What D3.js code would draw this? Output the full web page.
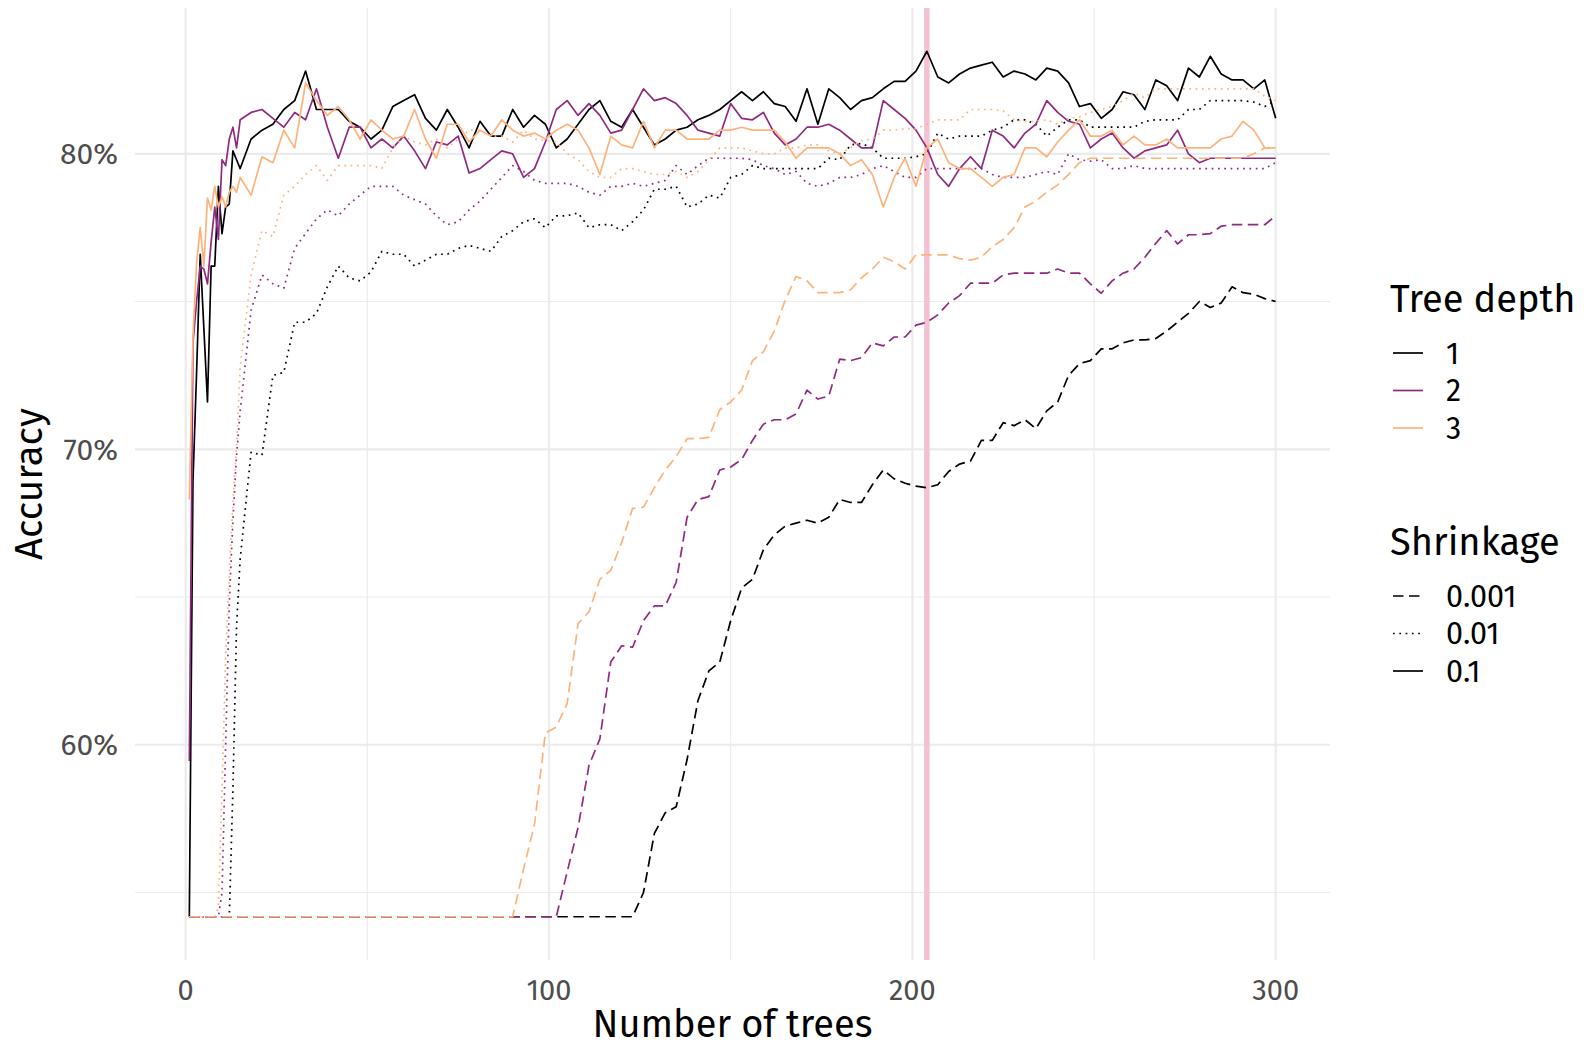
<!DOCTYPE html>
<html>
<head>
<meta charset="utf-8">
<script src="https://cdn.jsdelivr.net/npm/d3@7"></script>
<style>
    body { margin: 0; background: #ffffff; }
    svg { display: block; font-family: "Fira Sans", "Open Sans", sans-serif; }
</style>
</head>
<body>
<script>

const trees = [1, 2, 3, 4, 5, 6, 7, 8, 9, 10, 11, 12, 13, 14, 15,
    18, 21, 24, 27, 30, 33, 36, 39, 42, 45,
    48, 51, 54, 57, 60, 63, 66, 69, 72, 75,
    78, 81, 84, 87, 90, 93, 96, 99, 102, 105,
    108, 111, 114, 117, 120, 123, 126, 129, 132, 135,
    138, 141, 144, 147, 150, 153, 156, 159, 162, 165,
    168, 171, 174, 177, 180, 183, 186, 189, 192, 195,
    198, 201, 204, 207, 210, 213, 216, 219, 222, 225,
    228, 231, 234, 237, 240, 243, 246, 249, 252, 255,
    258, 261, 264, 267, 270, 273, 276, 279, 282, 285,
    288, 291, 294, 297, 300];

const depths = ["1", "2", "3"];
const shrinkages = ["0.001", "0.01", "0.1"];
const xTicks = [0, 100, 200, 300];
const xMinor = [50, 150, 250];
const yTicks = [60, 70, 80];
const yMinor = [55, 65, 75];
const bestTrees = 204;

// accuracy (%) per series
const acc_d1_s01 = [54.18, 68.9, 72.6, 76.6, 74.1, 71.6, 76.2, 76.2, 78.9, 77.3, 78.2, 78.3, 80.1, 79.8, 79.5,
    80.5, 80.8, 81.0, 81.5, 81.8, 82.8, 81.5, 81.5, 81.5, 81.1,
    80.9, 80.5, 80.8, 81.6, 81.8, 82.0, 81.2, 80.8, 81.5, 80.9,
    80.2, 81.1, 80.6, 80.6, 81.5, 80.9, 81.3, 81.0, 80.2, 80.5,
    81.0, 81.5, 81.8, 81.1, 80.9, 81.5, 80.9, 80.3, 80.5, 80.8,
    80.9, 81.15, 81.3, 81.5, 81.8, 82.1, 81.8, 82.1, 81.7, 81.6,
    81.1, 82.2, 81.0, 82.2, 81.9, 81.5, 81.8, 81.9, 82.2, 82.45,
    82.45, 82.8, 83.47, 82.6, 82.4, 82.7, 82.9, 83.0, 83.1, 82.6,
    82.8, 82.7, 82.5, 82.9, 82.8, 82.4, 81.6, 81.7, 81.2, 81.5,
    82.1, 82.0, 81.5, 82.5, 82.3, 81.8, 82.9, 82.6, 83.3, 82.7,
    82.5, 82.5, 82.2, 82.5, 81.2];

const acc_d2_s01 = [59.45, 73.6, 75.0, 76.2, 76.1, 75.6, 77.0, 78.2, 77.1, 79.8, 79.6, 80.5, 80.9, 80.2, 81.15,
    81.4, 81.5, 81.2, 80.9, 81.4, 81.15, 82.2, 80.9, 79.85, 80.9,
    80.9, 80.2, 80.5, 80.2, 80.6, 80.1, 79.5, 80.4, 80.3, 80.6,
    79.35, 79.5, 79.8, 80.1, 80.0, 79.2, 79.5, 80.4, 81.5, 81.8,
    81.3, 81.7, 81.3, 80.7, 80.8, 81.5, 82.2, 81.8, 81.9, 81.7,
    81.3, 80.8, 80.7, 80.6, 81.7, 81.2, 81.15, 81.4, 80.7, 80.3,
    80.5, 80.9, 80.9, 81.0, 80.8, 80.5, 80.2, 80.2, 81.8, 81.5,
    81.2, 80.8, 80.2, 79.3, 78.9, 79.5, 79.9, 79.5, 80.8, 80.6,
    80.2, 80.7, 81.0, 81.8, 81.4, 81.1, 81.0, 80.2, 80.5, 80.7,
    80.2, 79.85, 80.1, 80.2, 80.3, 80.8, 80.0, 79.7, 79.85, 79.85,
    79.85, 79.85, 79.85, 79.85, 79.85];

const acc_d3_s01 = [68.3, 73.8, 76.3, 77.5, 76.2, 78.5, 78.1, 78.9, 78.2, 78.55, 78.2, 78.7, 78.9, 78.7, 79.2,
    78.6, 79.9, 79.7, 80.8, 80.2, 82.4, 81.8, 81.3, 81.6, 81.15,
    80.5, 81.15, 80.8, 80.5, 80.6, 81.5, 80.5, 79.85, 81.0, 81.0,
    80.4, 80.8, 80.6, 81.15, 80.8, 80.6, 80.7, 80.5, 80.8, 81.0,
    80.8, 80.2, 79.3, 80.6, 80.3, 80.2, 81.1, 80.2, 80.8, 80.8,
    80.5, 80.5, 80.5, 80.8, 80.8, 80.9, 80.8, 80.8, 80.8, 80.4,
    79.85, 80.2, 80.2, 80.2, 80.0, 79.6, 79.8, 79.3, 78.2, 79.2,
    79.85, 78.9, 80.2, 80.5, 79.7, 79.5, 79.5, 79.2, 78.9, 79.2,
    79.3, 80.2, 80.2, 79.9, 80.4, 80.8, 81.15, 80.6, 80.6, 80.8,
    80.3, 80.6, 80.3, 80.3, 80.5, 80.2, 80.2, 80.2, 80.2, 80.5,
    80.6, 81.1, 80.8, 80.2, 80.2];

const acc_d1_s001 = [54.18, 54.18, 54.18, 54.18, 54.18, 54.18, 54.18, 54.18, 54.18, 54.18, 54.18, 54.18, 58.5, 64.0, 66.3,
    69.9, 69.8, 72.5, 72.6, 74.3, 74.3, 74.6, 75.5, 76.2, 75.8,
    75.7, 76.0, 76.7, 76.6, 76.6, 76.2, 76.4, 76.6, 76.6, 76.8,
    76.9, 76.8, 76.7, 77.2, 77.4, 77.7, 77.8, 77.5, 77.9, 77.9,
    78.0, 77.5, 77.6, 77.6, 77.4, 77.7, 78.1, 78.8, 78.8, 78.9,
    78.2, 78.3, 78.6, 78.5, 79.2, 79.3, 79.6, 79.5, 79.5, 79.5,
    79.5, 79.5, 79.5, 79.85, 79.8, 80.3, 80.35, 80.2, 79.85, 79.85,
    79.85, 79.9, 80.0, 80.7, 80.5, 80.6, 80.6, 80.6, 80.8, 80.9,
    81.15, 81.15, 81.0, 80.6, 80.9, 81.15, 81.15, 80.9, 80.9, 80.9,
    80.9, 80.9, 81.1, 81.15, 81.15, 81.15, 81.5, 81.5, 81.8, 81.8,
    81.8, 81.8, 81.75, 81.6, 81.8];

const acc_d2_s001 = [54.18, 54.18, 54.18, 54.18, 54.18, 54.18, 54.18, 54.18, 54.18, 55.0, 60.0, 64.8, 67.6, 69.8, 71.3,
    74.7, 75.9, 75.6, 75.45, 76.8, 77.3, 77.8, 78.1, 77.9, 78.3,
    78.6, 78.9, 78.9, 78.9, 78.6, 78.45, 78.3, 77.9, 77.6, 77.7,
    78.1, 78.4, 78.8, 79.2, 79.6, 79.4, 79.1, 79.0, 79.0, 79.0,
    78.9, 78.7, 78.6, 78.9, 78.9, 79.0, 78.9, 79.0, 79.1, 79.6,
    79.3, 79.6, 79.85, 79.85, 79.85, 79.85, 79.8, 79.6, 79.5, 79.3,
    79.4, 79.0, 78.9, 79.0, 79.2, 79.2, 79.3, 79.5, 79.6, 79.4,
    79.2, 79.2, 79.5, 79.5, 79.5, 79.5, 79.5, 79.5, 79.3, 79.2,
    79.2, 79.2, 79.3, 79.4, 79.3, 80.0, 79.8, 79.75, 79.8, 79.5,
    79.5, 79.6, 79.5, 79.5, 79.5, 79.5, 79.5, 79.5, 79.5, 79.5,
    79.5, 79.5, 79.5, 79.5, 79.7];

const acc_d3_s001 = [54.18, 54.18, 54.18, 54.18, 54.18, 54.18, 54.18, 54.18, 54.5, 58.5, 63.0, 65.8, 68.2, 70.1, 72.8,
    75.9, 77.4, 77.2, 78.6, 78.9, 79.3, 79.6, 79.1, 79.6, 79.6,
    79.6, 79.6, 79.5, 80.2, 80.6, 80.4, 80.3, 80.5, 80.2, 80.5,
    80.8, 80.8, 80.6, 80.6, 80.4, 80.8, 80.5, 80.45, 80.4, 80.0,
    79.8, 79.4, 79.2, 79.2, 79.5, 79.5, 79.4, 79.3, 79.3, 79.4,
    79.2, 79.4, 79.8, 80.2, 80.2, 80.2, 80.1, 80.0, 80.0, 80.2,
    80.2, 80.3, 80.3, 80.1, 80.0, 80.2, 80.45, 80.5, 80.8, 80.8,
    80.85, 80.85, 81.0, 81.15, 81.15, 81.15, 81.5, 81.5, 81.5, 81.45,
    81.15, 81.1, 81.1, 81.15, 81.0, 81.2, 81.25, 81.4, 81.5, 81.6,
    81.8, 82.05, 81.9, 82.2, 82.2, 82.2, 82.2, 82.2, 82.2, 82.2,
    82.2, 82.2, 82.2, 81.95, 81.8];

const acc_d1_s0001 = [54.18, 54.18, 54.18, 54.18, 54.18, 54.18, 54.18, 54.18, 54.18, 54.18, 54.18, 54.18, 54.18, 54.18, 54.18,
    54.18, 54.18, 54.18, 54.18, 54.18, 54.18, 54.18, 54.18, 54.18, 54.18,
    54.18, 54.18, 54.18, 54.18, 54.18, 54.18, 54.18, 54.18, 54.18, 54.18,
    54.18, 54.18, 54.18, 54.18, 54.18, 54.18, 54.18, 54.18, 54.18, 54.18,
    54.18, 54.18, 54.18, 54.18, 54.18, 54.18, 55.0, 57.0, 57.7, 57.9,
    59.5, 61.5, 62.5, 62.8, 64.2, 65.3, 65.6, 66.6, 67.1, 67.4,
    67.5, 67.6, 67.5, 67.7, 68.3, 68.2, 68.2, 68.8, 69.3, 69.0,
    68.85, 68.75, 68.7, 68.8, 69.25, 69.5, 69.6, 70.3, 70.3, 70.9,
    70.8, 71.0, 70.7, 71.3, 71.6, 72.5, 72.9, 73.0, 73.4, 73.4,
    73.6, 73.7, 73.7, 73.75, 74.0, 74.3, 74.6, 75.0, 74.8, 74.95,
    75.5, 75.3, 75.25, 75.1, 75.0];

const acc_d2_s0001 = [54.18, 54.18, 54.18, 54.18, 54.18, 54.18, 54.18, 54.18, 54.18, 54.18, 54.18, 54.18, 54.18, 54.18, 54.18,
    54.18, 54.18, 54.18, 54.18, 54.18, 54.18, 54.18, 54.18, 54.18, 54.18,
    54.18, 54.18, 54.18, 54.18, 54.18, 54.18, 54.18, 54.18, 54.18, 54.18,
    54.18, 54.18, 54.18, 54.18, 54.18, 54.18, 54.18, 54.18, 54.18, 55.7,
    57.2, 59.3, 60.2, 62.8, 63.35, 63.3, 64.2, 64.7, 64.7, 65.5,
    67.7, 68.3, 68.4, 69.3, 69.4, 69.65, 70.3, 70.85, 71.0, 71.0,
    71.2, 72.0, 71.7, 71.8, 73.05, 73.0, 73.1, 73.6, 73.5, 73.8,
    73.8, 74.2, 74.3, 74.55, 74.95, 75.2, 75.62, 75.62, 75.62, 75.9,
    75.96, 75.96, 75.96, 75.96, 76.1, 75.96, 75.96, 75.6, 75.28, 75.7,
    75.96, 76.1, 76.5, 76.97, 77.4, 76.95, 77.26, 77.26, 77.3, 77.55,
    77.6, 77.6, 77.6, 77.6, 77.9];

const acc_d3_s0001 = [54.18, 54.18, 54.18, 54.18, 54.18, 54.18, 54.18, 54.18, 54.18, 54.18, 54.18, 54.18, 54.18, 54.18, 54.18,
    54.18, 54.18, 54.18, 54.18, 54.18, 54.18, 54.18, 54.18, 54.18, 54.18,
    54.18, 54.18, 54.18, 54.18, 54.18, 54.18, 54.18, 54.18, 54.18, 54.18,
    54.18, 54.18, 54.18, 54.18, 54.18, 55.8, 57.3, 60.4, 60.6, 61.4,
    64.1, 64.5, 65.6, 65.9, 66.85, 68.0, 68.04, 68.7, 69.3, 69.75,
    70.36, 70.36, 70.4, 71.34, 71.6, 72.0, 73.0, 73.3, 74.0, 75.05,
    75.85, 75.7, 75.3, 75.3, 75.3, 75.4, 75.8, 76.1, 76.5, 76.35,
    76.1, 76.58, 76.58, 76.58, 76.58, 76.45, 76.4, 76.5, 76.86, 77.1,
    77.5, 78.2, 78.4, 78.7, 78.95, 79.3, 79.7, 79.85, 79.85, 79.85,
    79.85, 79.85, 79.85, 79.85, 79.85, 79.85, 79.85, 79.85, 79.85, 79.85,
    79.85, 79.85, 80.0, 80.2, 80.2];

// series in ggplot group order (depth first), so depth 3 ends on top
const series = [
    { depth: "1", shrinkage: "0.001", values: acc_d1_s0001 },
    { depth: "1", shrinkage: "0.01", values: acc_d1_s001 },
    { depth: "1", shrinkage: "0.1", values: acc_d1_s01 },
    { depth: "2", shrinkage: "0.001", values: acc_d2_s0001 },
    { depth: "2", shrinkage: "0.01", values: acc_d2_s001 },
    { depth: "2", shrinkage: "0.1", values: acc_d2_s01 },
    { depth: "3", shrinkage: "0.001", values: acc_d3_s0001 },
    { depth: "3", shrinkage: "0.01", values: acc_d3_s001 },
    { depth: "3", shrinkage: "0.1", values: acc_d3_s01 }
];

const depthColor = d3.scaleOrdinal()
    .domain(depths)
    .range(["#000004", "#902A80", "#FEB27B"]);

const dashFor = d3.scaleOrdinal()
    .domain(shrinkages)
    .range(["10.5,5.5", "1.7,4.6", null]);

const W = 1584, H = 1050;
const margin = { top: 8, right: 254, bottom: 90, left: 135 };
const lineW = 1.7;

// ggplot style 5% expansion of the data range
function expand(ext) {
    const pad = (ext[1] - ext[0]) * 0.05;
    return [ext[0] - pad, ext[1] + pad];
}

const allAcc = series.flatMap(s => s.values);

const xScale = d3.scaleLinear()
    .domain(expand(d3.extent(trees)))
    .range([margin.left, W - margin.right]);

const yScale = d3.scaleLinear()
    .domain(expand(d3.extent(allAcc)))
    .range([H - margin.bottom, margin.top]);

const svg = d3.select("body").append("svg")
    .attr("width", W)
    .attr("height", H);

// grid: minor then major
const grid = svg.append("g").attr("stroke", "#EBEBEB").attr("fill", "none");

grid.selectAll(".ymin").data(yMinor).enter().append("line")
    .attr("x1", margin.left).attr("x2", W - margin.right)
    .attr("y1", d => yScale(d)).attr("y2", d => yScale(d))
    .attr("stroke-width", 1.1);

grid.selectAll(".xmin").data(xMinor).enter().append("line")
    .attr("y1", margin.top).attr("y2", H - margin.bottom)
    .attr("x1", d => xScale(d)).attr("x2", d => xScale(d))
    .attr("stroke-width", 1.1);

grid.selectAll(".ymaj").data(yTicks).enter().append("line")
    .attr("x1", margin.left).attr("x2", W - margin.right)
    .attr("y1", d => yScale(d)).attr("y2", d => yScale(d))
    .attr("stroke-width", 2.2);

grid.selectAll(".xmaj").data(xTicks).enter().append("line")
    .attr("y1", margin.top).attr("y2", H - margin.bottom)
    .attr("x1", d => xScale(d)).attr("x2", d => xScale(d))
    .attr("stroke-width", 2.2);

// highlighted number of trees
svg.append("line")
    .attr("x1", xScale(bestTrees)).attr("x2", xScale(bestTrees))
    .attr("y1", margin.top).attr("y2", H - margin.bottom)
    .attr("stroke", "#F4C1D3")
    .attr("stroke-width", 5.5);

// the lines
const line = d3.line()
    .x((d, i) => xScale(trees[i]))
    .y(d => yScale(d));

svg.append("g").selectAll("path")
    .data(series)
    .enter().append("path")
    .attr("d", d => line(d.values))
    .attr("fill", "none")
    .attr("stroke", d => depthColor(d.depth))
    .attr("stroke-width", lineW)
    .attr("stroke-linejoin", "round")
    .attr("stroke-dasharray", d => dashFor(d.shrinkage));

// axes text
svg.append("g").selectAll("text")
    .data(yTicks)
    .enter().append("text")
    .attr("x", 118)
    .attr("y", d => yScale(d) + 10.5)
    .attr("text-anchor", "end")
    .attr("font-size", 30)
    .attr("fill", "#4D4D4D")
    .text(d => d + "%");

svg.append("g").selectAll("text")
    .data(xTicks)
    .enter().append("text")
    .attr("x", d => xScale(d))
    .attr("y", 1000)
    .attr("text-anchor", "middle")
    .attr("font-size", 29)
    .attr("fill", "#4D4D4D")
    .text(d => d);

svg.append("text")
    .attr("x", (margin.left + W - margin.right) / 2)
    .attr("y", 1037)
    .attr("text-anchor", "middle")
    .attr("font-size", 38)
    .text("Number of trees");

svg.append("text")
    .attr("transform", "translate(42," + ((margin.top + H - margin.bottom) / 2) + ") rotate(-90)")
    .attr("text-anchor", "middle")
    .attr("font-size", 38.5)
    .text("Accuracy");

// legends
function legend(title, keys, top, strokeOf, dashOf) {
    const g = svg.append("g");
    g.append("text")
        .attr("x", 1390)
        .attr("y", top)
        .attr("font-size", 38)
        .text(title);
    keys.forEach((k, i) => {
        const ky = top + 41 + i * 37.5;
        g.append("line")
            .attr("x1", 1393).attr("x2", 1423)
            .attr("y1", ky).attr("y2", ky)
            .attr("stroke", strokeOf(k))
            .attr("stroke-width", lineW)
            .attr("stroke-dasharray", dashOf(k));
        g.append("text")
            .attr("x", 1446)
            .attr("y", ky + 10.5)
            .attr("font-size", 30.5)
            .text(k);
    });
}

legend("Tree depth", depths, 312, k => depthColor(k), k => null);
legend("Shrinkage", shrinkages, 555, k => "#000004", k => dashFor(k));

</script>
</body>
</html>
